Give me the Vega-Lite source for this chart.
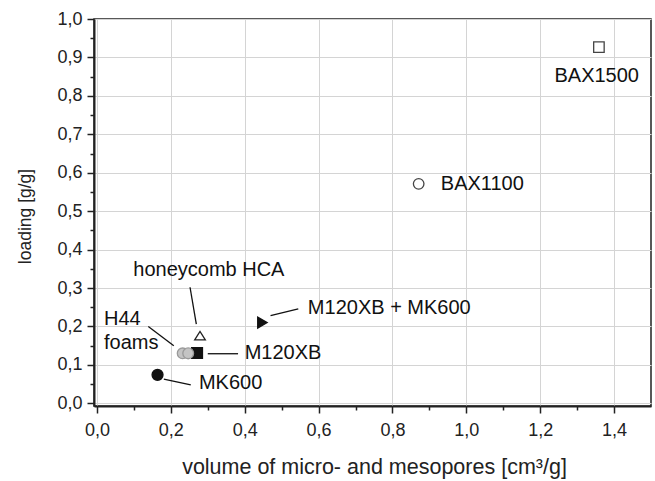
{
  "$schema": "https://vega.github.io/schema/vega-lite/v6.json",
  "width": 557,
  "height": 387,
  "autosize": {"type": "none"},
  "padding": {"left": 94, "top": 19, "right": 4, "bottom": 75},
  "background": "white",
  "config": {
    "view": {"stroke": "#222", "strokeWidth": 1.5},
    "font": "Liberation Sans",
    "axis": {
      "labelFont": "Liberation Sans",
      "titleFont": "Liberation Sans",
      "labelColor": "#222",
      "titleColor": "#222",
      "domainColor": "#222",
      "tickColor": "#222",
      "titleFontWeight": "normal"
    }
  },
  "datasets": {
    "points": [
      {"name": "BAX1500", "x": 1.359, "y": 0.927},
      {"name": "BAX1100", "x": 0.871, "y": 0.571},
      {"name": "honeycomb HCA", "x": 0.279, "y": 0.176},
      {"name": "H44", "x": 0.232, "y": 0.130},
      {"name": "foams", "x": 0.247, "y": 0.130},
      {"name": "M120XB", "x": 0.271, "y": 0.131},
      {"name": "M120XB + MK600", "x": 0.448, "y": 0.210},
      {"name": "MK600", "x": 0.164, "y": 0.074}
    ],
    "labels": [
      {"label": "BAX1500", "x": 1.353, "y": 0.852},
      {"label": "BAX1100", "x": 0.931, "y": 0.571},
      {"label": "honeycomb HCA", "x": 0.303, "y": 0.348},
      {"label": "H44", "x": 0.019, "y": 0.220},
      {"label": "foams", "x": 0.019, "y": 0.158},
      {"label": "M120XB", "x": 0.400, "y": 0.130},
      {"label": "M120XB + MK600", "x": 0.571, "y": 0.248},
      {"label": "MK600", "x": 0.276, "y": 0.052}
    ],
    "leaders": [
      {"to": "honeycomb HCA", "x": 0.252, "y": 0.302, "x2": 0.269, "y2": 0.206},
      {"to": "H44 foams", "x": 0.139, "y": 0.200, "x2": 0.208, "y2": 0.150},
      {"to": "M120XB", "x": 0.300, "y": 0.129, "x2": 0.382, "y2": 0.129},
      {"to": "MK600", "x": 0.181, "y": 0.063, "x2": 0.254, "y2": 0.048},
      {"to": "M120XB + MK600", "x": 0.470, "y": 0.228, "x2": 0.545, "y2": 0.246}
    ]
  },
  "resolve": {"axis": {"x": "independent", "y": "independent"}},
  "layer": [
    {
      "data": {"name": "points"},
      "mark": {"type": "point", "opacity": 0},
      "encoding": {
        "x": {
          "field": "x", "type": "quantitative",
          "scale": {"domain": [-0.008, 1.5], "nice": false, "zero": false},
          "axis": {
            "orient": "bottom",
            "values": [0, 0.2, 0.4, 0.6, 0.8, 1.0, 1.2, 1.4],
            "labelExpr": "replace(format(datum.value, '.1f'), '.', ',')",
            "labelFontSize": 18,
            "labelPadding": 8,
            "tickSize": 7,
            "tickWidth": 1.5,
            "domainWidth": 2,
            "grid": true,
            "gridColor": "#d4d4d4",
            "gridWidth": 1,
            "title": "volume of micro- and mesopores [cm³/g]",
            "titleFontSize": 21.5,
            "titleX": 280,
            "titleY": 50
          }
        },
        "y": {
          "field": "y", "type": "quantitative",
          "scale": {"domain": [-0.007, 1.0], "nice": false, "zero": false},
          "axis": {
            "orient": "left",
            "values": [0, 0.1, 0.2, 0.3, 0.4, 0.5, 0.6, 0.7, 0.8, 0.9, 1.0],
            "labelExpr": "replace(format(datum.value, '.1f'), '.', ',')",
            "labelFontSize": 18,
            "labelPadding": 5,
            "tickSize": 7,
            "tickWidth": 1.5,
            "domainWidth": 2,
            "grid": true,
            "gridColor": "#d4d4d4",
            "gridWidth": 1,
            "title": "loading [g/g]",
            "titleFontSize": 17.5,
            "titleX": -60,
            "titleY": 197
          }
        }
      }
    },
    {
      "data": {"name": "points"},
      "mark": {"type": "point", "opacity": 0},
      "encoding": {
        "x": {
          "field": "x", "type": "quantitative",
          "axis": {
            "orient": "bottom",
            "values": [0.1, 0.3, 0.5, 0.7, 0.9, 1.1, 1.3],
            "labels": false, "grid": false, "domain": false,
            "tickSize": 4, "tickWidth": 1.5, "title": null
          }
        },
        "y": {
          "field": "y", "type": "quantitative",
          "axis": {
            "orient": "left",
            "values": [0.05, 0.15, 0.25, 0.35, 0.45, 0.55, 0.65, 0.75, 0.85, 0.95],
            "labels": false, "grid": false, "domain": false,
            "tickSize": 4, "tickWidth": 1.5, "title": null
          }
        }
      }
    },
    {
      "data": {"name": "leaders"},
      "mark": {"type": "rule", "color": "#111", "strokeWidth": 1.3},
      "encoding": {
        "x": {"field": "x", "type": "quantitative", "axis": null},
        "y": {"field": "y", "type": "quantitative", "axis": null},
        "x2": {"field": "x2"},
        "y2": {"field": "y2"}
      }
    },
    {
      "data": {"name": "points"},
      "mark": {"type": "point", "filled": true, "strokeWidth": 1.3, "opacity": 1},
      "encoding": {
        "x": {"field": "x", "type": "quantitative", "axis": null},
        "y": {"field": "y", "type": "quantitative", "axis": null},
        "order": {"field": "name", "sort": "ascending", "type": "nominal"},
        "shape": {
          "field": "name", "type": "nominal", "legend": null,
          "scale": {
            "domain": ["BAX1500", "BAX1100", "honeycomb HCA", "H44", "foams", "M120XB", "M120XB + MK600", "MK600"],
            "range": ["square", "circle", "M-1,0.8L0,-0.8L1,0.8Z", "circle", "circle", "square", "triangle-right", "circle"]
          }
        },
        "fill": {
          "field": "name", "type": "nominal", "legend": null,
          "scale": {
            "domain": ["BAX1500", "BAX1100", "honeycomb HCA", "H44", "foams", "M120XB", "M120XB + MK600", "MK600"],
            "range": ["white", "white", "white", "#c4c4c4", "#c4c4c4", "#111111", "#111111", "#111111"]
          }
        },
        "stroke": {
          "field": "name", "type": "nominal", "legend": null,
          "scale": {
            "domain": ["BAX1500", "BAX1100", "honeycomb HCA", "H44", "foams", "M120XB", "M120XB + MK600", "MK600"],
            "range": ["#444444", "#444444", "#222222", "#9a9a9a", "#9a9a9a", "#111111", "#111111", "#111111"]
          }
        },
        "size": {
          "field": "name", "type": "nominal", "legend": null,
          "scale": {
            "domain": ["BAX1500", "BAX1100", "honeycomb HCA", "H44", "foams", "M120XB", "M120XB + MK600", "MK600"],
            "range": [110, 120, 320, 160, 160, 105, 230, 150]
          }
        }
      }
    },
    {
      "data": {"name": "labels"},
      "transform": [{"filter": {"field": "label", "oneOf": ["BAX1500", "honeycomb HCA"]}}],
      "mark": {"type": "text", "align": "center", "baseline": "middle", "fontSize": 20, "color": "#111", "font": "Liberation Sans"},
      "encoding": {
        "x": {"field": "x", "type": "quantitative", "axis": null},
        "y": {"field": "y", "type": "quantitative", "axis": null},
        "text": {"field": "label"}
      }
    },
    {
      "data": {"name": "labels"},
      "transform": [{"filter": {"not": {"field": "label", "oneOf": ["BAX1500", "honeycomb HCA"]}}}],
      "mark": {"type": "text", "align": "left", "baseline": "middle", "fontSize": 20, "color": "#111", "font": "Liberation Sans"},
      "encoding": {
        "x": {"field": "x", "type": "quantitative", "axis": null},
        "y": {"field": "y", "type": "quantitative", "axis": null},
        "text": {"field": "label"}
      }
    }
  ]
}
